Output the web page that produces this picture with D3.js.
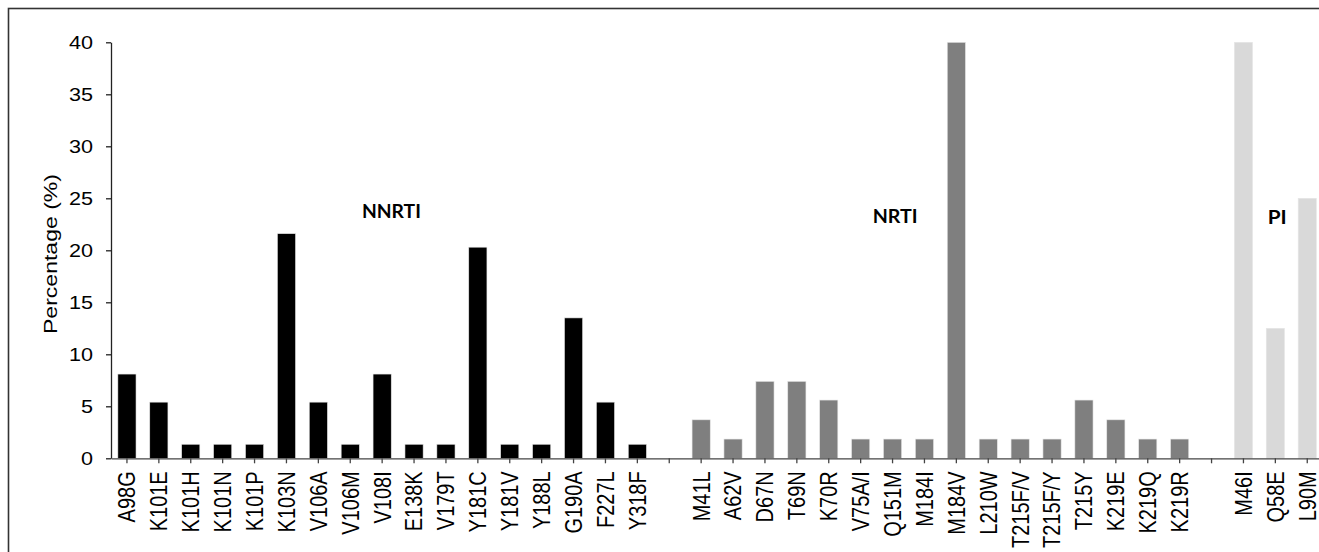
<!DOCTYPE html>
<html>
<head>
<meta charset="utf-8">
<script src="https://cdn.jsdelivr.net/npm/d3@7"></script>
<style>
  body { margin: 0; background: #fff; }
  svg { display: block; }
</style>
</head>
<body>
<svg id="chart" width="1319" height="552"></svg>
<script>
// mutation frequencies (%) per drug class
var nnrtiLabels = ["A98G","K101E","K101H","K101N","K101P","K103N","V106A","V106M","V108I","E138K","V179T","Y181C","Y181V","Y188L","G190A","F227L","Y318F"];
var nnrtiValues = [8.1, 5.4, 1.35, 1.35, 1.35, 21.6, 5.4, 1.35, 8.1, 1.35, 1.35, 20.3, 1.35, 1.35, 13.5, 5.4, 1.35];

var nrtiLabels = ["M41L","A62V","D67N","T69N","K70R","V75A/I","Q151M","M184I","M184V","L210W","T215F/V","T215F/Y","T215Y","K219E","K219Q","K219R"];
var nrtiValues = [3.7, 1.85, 7.4, 7.4, 5.6, 1.85, 1.85, 1.85, 40, 1.85, 1.85, 1.85, 5.6, 3.7, 1.85, 1.85];

var piLabels = ["M46I","Q58E","L90M"];
var piValues = [40, 12.5, 25];

var yTicks = [0, 5, 10, 15, 20, 25, 30, 35, 40];

var groups = [
  {name: "NNRTI", labels: nnrtiLabels, values: nnrtiValues, color: "#000000"},
  {name: "NRTI",  labels: nrtiLabels,  values: nrtiValues,  color: "#7f7f7f"},
  {name: "PI",    labels: piLabels,    values: piValues,    color: "#d9d9d9"}
];

// flatten, with an empty slot between classes
var rows = [], domain = [];
groups.forEach(function(g, gi){
  if (gi > 0) domain.push("gap" + gi);
  g.labels.forEach(function(l, i){
    rows.push({key: l, value: g.values[i], color: g.color});
    domain.push(l);
  });
});

var svg = d3.select("#chart");

// outer frame (cut off at right and bottom like the original)
svg.append("rect")
  .attr("x", 8.5).attr("y", 8.5)
  .attr("width", 1330).attr("height", 560)
  .attr("fill", "none")
  .attr("stroke", "#333")
  .attr("stroke-width", 1.6);

var x0 = 111, step = 31.9;
var x = d3.scaleBand()
  .domain(domain)
  .range([x0, x0 + step * domain.length])
  .paddingInner(0.43)
  .paddingOuter(0.215);

var y = d3.scaleLinear()
  .domain([0, 40])
  .range([458.3, 42.3]);

// bars
svg.append("g").selectAll("rect")
  .data(rows)
  .enter().append("rect")
    .attr("x", function(d){ return x(d.key); })
    .attr("y", function(d){ return y(d.value); })
    .attr("width", x.bandwidth())
    .attr("height", function(d){ return y(0) - y(d.value); })
    .attr("fill", function(d){ return d.color; })
    .attr("stroke", "#e6e6e6")
    .attr("stroke-width", 0.6);

// y axis
var yaxis = d3.axisLeft(y)
  .tickValues(yTicks)
  .tickSize(5)
  .tickSizeOuter(0);

var gy = svg.append("g")
  .attr("transform", "translate(" + x0 + ",0)")
  .call(yaxis);
gy.select(".domain").attr("stroke", "#222").attr("stroke-width", 1.3);
gy.selectAll(".tick line").attr("stroke", "#222").attr("stroke-width", 1.3);
gy.selectAll(".tick text")
  .attr("x", 0)
  .attr("dy", "0.35em")
  .attr("transform", "translate(-18,0) scale(1.2,1)")
  .attr("fill", "#000")
  .style("font-family", "'Liberation Sans', Arial, sans-serif")
  .style("font-size", "18px");

// x axis
var xaxis = d3.axisBottom(x)
  .tickSize(5)
  .tickSizeOuter(0)
  .tickFormat(function(d){ return d.indexOf("gap") === 0 ? "" : d; });

var gx = svg.append("g")
  .attr("transform", "translate(0," + y(0) + ")")
  .call(xaxis);
gx.select(".domain").attr("stroke", "#444").attr("stroke-width", 1.3);
gx.selectAll(".tick line").attr("stroke", "#444").attr("stroke-width", 1.3);
gx.selectAll(".tick text")
  .attr("x", 0)
  .attr("y", 0)
  .attr("dy", "0.35em")
  .attr("text-anchor", "end")
  .attr("transform", "translate(0,13) rotate(-90) scale(1,1.2)")
  .attr("fill", "#000")
  .style("font-family", "'Liberation Sans', Arial, sans-serif")
  .style("font-size", "20px");

// y axis title
svg.append("text")
  .attr("transform", "translate(57,254) rotate(-90)")
  .attr("text-anchor", "middle")
  .attr("textLength", 160)
  .attr("lengthAdjust", "spacingAndGlyphs")
  .attr("fill", "#000")
  .style("font-family", "'Liberation Sans', Arial, sans-serif")
  .style("font-size", "19px")
  .text("Percentage (%)");

// class labels
var classLabels = [
  {text: "NNRTI", x: 391.4, y: 218.3, len: 59},
  {text: "NRTI",  x: 895.2, y: 222.7, len: 45},
  {text: "PI",    x: 1277.2, y: 224.3, len: 19}
];
svg.append("g").selectAll("text")
  .data(classLabels)
  .enter().append("text")
    .attr("x", function(d){ return d.x; })
    .attr("y", function(d){ return d.y; })
    .attr("text-anchor", "middle")
    .attr("textLength", function(d){ return d.len; })
    .attr("lengthAdjust", "spacingAndGlyphs")
    .attr("fill", "#000")
    .style("font-family", "Lato, 'Open Sans', sans-serif")
    .style("font-weight", "bold")
    .style("font-size", "19.5px")
    .text(function(d){ return d.text; });
</script>
</body>
</html>
